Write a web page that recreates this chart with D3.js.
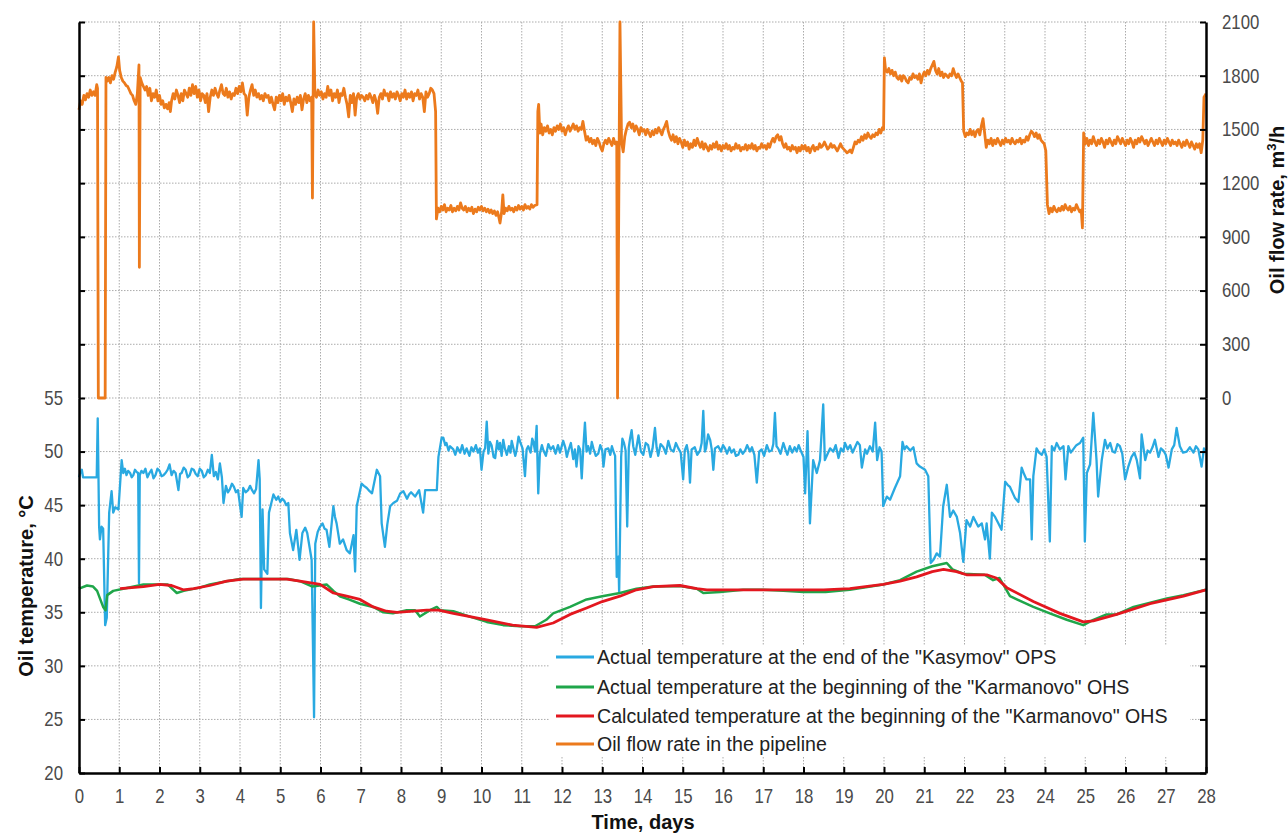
<!DOCTYPE html>
<html><head><meta charset="utf-8">
<script src="https://cdn.jsdelivr.net/npm/d3@7"></script>
<style>body{margin:0;background:#fff}svg{display:block}</style>
</head><body><svg id="c" width="1288" height="834"></svg>
<script>
// ---------- data ----------
const dayTicks = [0,1,2,3,4,5,6,7,8,9,10,11,12,13,14,15,16,17,18,19,20,21,22,23,24,25,26,27,28];
const tempTicks = [20,25,30,35,40,45,50,55];
const flowTicks = [0,300,600,900,1200,1500,1800,2100];

const seriesNames = [
  'Actual temperature at the end of the "Kasymov" OPS',
  'Actual temperature at the beginning of the "Karmanovo" OHS',
  'Calculated temperature at the beginning of the "Karmanovo" OHS',
  'Oil flow rate in the pipeline'
];

// oil flow rate, m3/h  [day, value]
const flowRate = [[0,1610],[0.04,1660],[0.08,1640],[0.12,1690],[0.16,1665],[0.2,1700],[0.24,1680],[0.28,1720],[0.32,1690],[0.36,1710],[0.4,1690],[0.44,1750],[0.46,1730],[0.48,0],[0.65,0],[0.67,1790],[0.7,1770],[0.74,1790],[0.78,1760],[0.82,1800],[0.86,1780],[0.9,1820],[0.94,1850],[0.98,1905],[1.01,1830],[1.05,1790],[1.09,1770],[1.13,1760],[1.17,1745],[1.21,1740],[1.25,1720],[1.29,1700],[1.33,1690],[1.37,1660],[1.41,1640],[1.45,1700],[1.49,1860],[1.5,730],[1.52,1790],[1.56,1760],[1.6,1740],[1.64,1720],[1.68,1740],[1.72,1690],[1.76,1730],[1.8,1660],[1.84,1700],[1.88,1680],[1.92,1720],[1.96,1660],[2.0,1690],[2.04,1640],[2.08,1660],[2.12,1620],[2.16,1640],[2.2,1615],[2.24,1650],[2.27,1600],[2.3,1660],[2.34,1700],[2.38,1670],[2.42,1720],[2.46,1690],[2.5,1650],[2.54,1700],[2.58,1660],[2.62,1720],[2.66,1700],[2.7,1680],[2.74,1730],[2.78,1690],[2.82,1750],[2.86,1700],[2.9,1740],[2.94,1680],[2.98,1720],[3.02,1660],[3.06,1700],[3.1,1690],[3.14,1650],[3.18,1700],[3.22,1600],[3.26,1680],[3.3,1720],[3.34,1690],[3.38,1730],[3.42,1700],[3.46,1680],[3.5,1720],[3.54,1750],[3.58,1700],[3.62,1690],[3.66,1730],[3.7,1680],[3.74,1710],[3.78,1670],[3.82,1700],[3.86,1690],[3.9,1730],[3.94,1700],[3.98,1740],[4.02,1710],[4.06,1760],[4.1,1700],[4.14,1690],[4.18,1580],[4.22,1680],[4.26,1720],[4.3,1750],[4.34,1690],[4.38,1720],[4.42,1680],[4.46,1700],[4.5,1670],[4.54,1690],[4.58,1660],[4.62,1700],[4.66,1680],[4.7,1690],[4.74,1650],[4.78,1680],[4.82,1640],[4.86,1610],[4.9,1680],[4.94,1650],[4.98,1690],[5.02,1660],[5.06,1700],[5.1,1640],[5.14,1680],[5.18,1660],[5.22,1690],[5.26,1650],[5.3,1600],[5.34,1670],[5.38,1640],[5.42,1680],[5.46,1650],[5.5,1690],[5.54,1610],[5.58,1670],[5.62,1700],[5.66,1650],[5.7,1690],[5.74,1660],[5.78,1680],[5.8,1117],[5.83,2100],[5.86,1700],[5.9,1680],[5.94,1720],[5.98,1690],[6.02,1710],[6.06,1670],[6.1,1700],[6.14,1680],[6.18,1740],[6.22,1690],[6.26,1720],[6.3,1660],[6.34,1700],[6.38,1680],[6.42,1720],[6.46,1650],[6.5,1700],[6.54,1690],[6.58,1730],[6.62,1680],[6.66,1640],[6.7,1570],[6.74,1690],[6.78,1650],[6.82,1700],[6.86,1580],[6.9,1680],[6.94,1700],[6.98,1670],[7.02,1690],[7.06,1680],[7.1,1660],[7.14,1690],[7.18,1670],[7.22,1700],[7.26,1680],[7.3,1650],[7.34,1690],[7.38,1660],[7.42,1590],[7.46,1680],[7.5,1700],[7.54,1670],[7.58,1720],[7.62,1690],[7.66,1700],[7.7,1660],[7.74,1710],[7.78,1680],[7.82,1700],[7.86,1670],[7.9,1710],[7.94,1690],[7.98,1660],[8.02,1700],[8.06,1680],[8.1,1720],[8.14,1670],[8.18,1700],[8.22,1680],[8.26,1710],[8.3,1660],[8.34,1700],[8.38,1690],[8.42,1720],[8.46,1670],[8.5,1700],[8.54,1680],[8.58,1600],[8.62,1710],[8.66,1680],[8.7,1700],[8.74,1730],[8.78,1720],[8.82,1700],[8.86,1600],[8.88,1000],[8.92,1060],[8.96,1040],[9.0,1070],[9.04,1050],[9.08,1080],[9.12,1040],[9.16,1060],[9.2,1050],[9.24,1075],[9.28,1040],[9.32,1060],[9.36,1045],[9.4,1070],[9.44,1050],[9.48,1090],[9.52,1060],[9.56,1050],[9.6,1070],[9.64,1040],[9.68,1060],[9.72,1045],[9.76,1065],[9.8,1030],[9.84,1055],[9.88,1040],[9.92,1065],[9.96,1050],[10.0,1070],[10.04,1045],[10.08,1060],[10.12,1040],[10.16,1055],[10.2,1035],[10.24,1050],[10.28,1030],[10.32,1045],[10.36,1020],[10.4,1040],[10.44,1000],[10.46,977],[10.5,1040],[10.53,1134],[10.56,1030],[10.6,1060],[10.64,1045],[10.68,1070],[10.72,1050],[10.76,1060],[10.8,1040],[10.84,1065],[10.88,1050],[10.92,1075],[10.96,1055],[11.0,1070],[11.04,1050],[11.08,1080],[11.12,1060],[11.16,1070],[11.2,1055],[11.24,1080],[11.28,1065],[11.32,1075],[11.38,1080],[11.4,1600],[11.42,1640],[11.45,1480],[11.48,1530],[11.52,1470],[11.56,1510],[11.6,1490],[11.64,1520],[11.68,1480],[11.72,1500],[11.76,1470],[11.8,1510],[11.84,1490],[11.88,1520],[11.92,1500],[11.96,1530],[12.0,1490],[12.04,1510],[12.08,1470],[12.12,1500],[12.16,1520],[12.2,1490],[12.24,1510],[12.28,1530],[12.32,1500],[12.36,1520],[12.4,1490],[12.44,1510],[12.48,1500],[12.52,1545],[12.56,1490],[12.6,1440],[12.64,1460],[12.68,1430],[12.72,1450],[12.76,1420],[12.8,1440],[12.84,1410],[12.88,1450],[12.92,1430],[12.96,1400],[13.0,1380],[13.04,1420],[13.08,1440],[13.12,1420],[13.16,1450],[13.2,1430],[13.24,1410],[13.28,1450],[13.32,1420],[13.36,1430],[13.38,0],[13.44,2100],[13.48,1430],[13.52,1375],[13.56,1460],[13.6,1500],[13.64,1530],[13.68,1540],[13.72,1510],[13.76,1530],[13.8,1490],[13.84,1520],[13.88,1500],[13.92,1470],[13.96,1510],[14.0,1490],[14.04,1500],[14.08,1470],[14.12,1500],[14.16,1480],[14.2,1460],[14.24,1490],[14.28,1470],[14.32,1500],[14.36,1480],[14.4,1510],[14.44,1490],[14.48,1470],[14.52,1500],[14.56,1520],[14.6,1545],[14.64,1490],[14.68,1460],[14.72,1440],[14.76,1470],[14.8,1430],[14.84,1460],[14.88,1420],[14.92,1450],[14.96,1430],[15.0,1400],[15.04,1440],[15.08,1410],[15.12,1430],[15.16,1390],[15.2,1420],[15.24,1400],[15.28,1440],[15.32,1410],[15.36,1450],[15.4,1420],[15.44,1400],[15.48,1430],[15.52,1390],[15.56,1420],[15.6,1400],[15.64,1380],[15.68,1410],[15.72,1390],[15.76,1420],[15.8,1400],[15.84,1430],[15.88,1390],[15.92,1410],[15.96,1380],[16.0,1410],[16.04,1395],[16.08,1420],[16.12,1390],[16.16,1410],[16.2,1380],[16.24,1400],[16.28,1390],[16.32,1420],[16.36,1395],[16.4,1410],[16.44,1380],[16.48,1400],[16.52,1390],[16.56,1415],[16.6,1385],[16.64,1410],[16.68,1395],[16.72,1420],[16.76,1390],[16.8,1410],[16.84,1380],[16.88,1400],[16.92,1395],[16.96,1420],[17.0,1400],[17.04,1410],[17.08,1390],[17.12,1420],[17.16,1400],[17.2,1430],[17.24,1450],[17.28,1430],[17.32,1460],[17.36,1470],[17.4,1440],[17.44,1460],[17.48,1420],[17.52,1400],[17.56,1420],[17.6,1390],[17.64,1400],[17.68,1380],[17.72,1410],[17.76,1390],[17.8,1400],[17.84,1370],[17.88,1400],[17.92,1380],[17.96,1410],[18.0,1390],[18.04,1410],[18.08,1380],[18.12,1400],[18.16,1370],[18.2,1395],[18.24,1410],[18.28,1380],[18.32,1400],[18.36,1390],[18.4,1420],[18.44,1400],[18.48,1410],[18.52,1430],[18.56,1410],[18.6,1390],[18.64,1400],[18.68,1420],[18.72,1400],[18.76,1410],[18.8,1395],[18.84,1380],[18.88,1400],[18.92,1420],[18.96,1400],[19.0,1390],[19.04,1380],[19.08,1370],[19.12,1375],[19.16,1385],[19.2,1370],[19.24,1400],[19.28,1430],[19.32,1420],[19.36,1440],[19.4,1430],[19.44,1460],[19.48,1440],[19.52,1470],[19.56,1450],[19.6,1480],[19.64,1460],[19.68,1450],[19.72,1470],[19.76,1460],[19.8,1480],[19.84,1470],[19.88,1500],[19.92,1480],[19.96,1510],[19.99,1500],[20.01,1900],[20.04,1830],[20.08,1820],[20.12,1840],[20.16,1810],[20.2,1830],[20.24,1800],[20.28,1820],[20.32,1790],[20.36,1780],[20.4,1800],[20.44,1770],[20.48,1800],[20.52,1790],[20.56,1770],[20.6,1760],[20.64,1790],[20.68,1780],[20.72,1810],[20.76,1790],[20.8,1800],[20.84,1780],[20.88,1810],[20.92,1760],[20.96,1800],[21.0,1820],[21.04,1800],[21.08,1830],[21.12,1810],[21.16,1840],[21.2,1860],[21.24,1880],[21.28,1830],[21.32,1810],[21.36,1840],[21.4,1800],[21.44,1820],[21.48,1790],[21.52,1810],[21.56,1800],[21.6,1790],[21.64,1810],[21.68,1800],[21.72,1840],[21.76,1810],[21.8,1790],[21.84,1810],[21.88,1790],[21.92,1770],[21.95,1760],[21.98,1490],[22.02,1460],[22.06,1480],[22.1,1470],[22.14,1500],[22.18,1470],[22.22,1490],[22.26,1460],[22.3,1490],[22.34,1500],[22.38,1470],[22.42,1520],[22.46,1560],[22.5,1480],[22.54,1400],[22.58,1440],[22.62,1420],[22.66,1450],[22.7,1410],[22.74,1440],[22.78,1420],[22.82,1450],[22.86,1430],[22.9,1410],[22.94,1440],[22.98,1420],[23.02,1450],[23.06,1430],[23.1,1440],[23.14,1420],[23.18,1450],[23.22,1430],[23.26,1420],[23.3,1440],[23.34,1430],[23.38,1450],[23.42,1420],[23.46,1440],[23.5,1430],[23.54,1460],[23.58,1440],[23.62,1470],[23.66,1490],[23.7,1480],[23.74,1460],[23.78,1480],[23.82,1450],[23.86,1470],[23.9,1440],[23.94,1430],[23.98,1420],[24.02,1380],[24.06,1080],[24.1,1030],[24.14,1060],[24.18,1040],[24.22,1070],[24.26,1050],[24.3,1040],[24.34,1060],[24.38,1045],[24.42,1070],[24.46,1050],[24.5,1080],[24.54,1060],[24.58,1050],[24.62,1070],[24.66,1040],[24.7,1060],[24.74,1050],[24.78,1080],[24.82,1060],[24.86,1040],[24.9,1050],[24.93,950],[24.96,1480],[25.0,1420],[25.04,1450],[25.08,1410],[25.12,1440],[25.16,1420],[25.2,1460],[25.24,1430],[25.28,1410],[25.32,1440],[25.36,1420],[25.4,1450],[25.44,1430],[25.48,1400],[25.52,1440],[25.56,1420],[25.6,1450],[25.64,1430],[25.68,1410],[25.72,1440],[25.76,1420],[25.8,1460],[25.84,1440],[25.88,1420],[25.92,1450],[25.96,1430],[26.0,1410],[26.04,1440],[26.08,1420],[26.12,1450],[26.16,1430],[26.2,1400],[26.24,1440],[26.28,1420],[26.32,1450],[26.36,1430],[26.4,1460],[26.44,1440],[26.48,1420],[26.52,1440],[26.56,1410],[26.6,1430],[26.64,1450],[26.68,1430],[26.72,1410],[26.76,1440],[26.8,1420],[26.84,1450],[26.88,1430],[26.92,1410],[26.96,1440],[27.0,1420],[27.04,1450],[27.08,1430],[27.12,1410],[27.16,1440],[27.2,1420],[27.24,1430],[27.28,1410],[27.32,1440],[27.36,1420],[27.4,1400],[27.44,1430],[27.48,1410],[27.52,1440],[27.56,1420],[27.6,1400],[27.64,1430],[27.68,1410],[27.72,1390],[27.76,1420],[27.8,1400],[27.84,1420],[27.88,1370],[27.92,1440],[27.95,1680],[28.0,1700]];

// actual temperature at the end of the "Kasymov" OPS, °C
const kasymovTemp = [[0.0,47.6],[0.03,48.0],[0.07,48.3],[0.1,47.6],[0.2,47.6],[0.3,47.6],[0.44,47.6],[0.465,53.1],[0.5,43.0],[0.52,41.8],[0.56,43.0],[0.6,42.8],[0.65,33.8],[0.69,34.5],[0.75,44.3],[0.81,46.3],[0.85,44.3],[0.9,44.8],[0.98,44.6],[1.06,49.2],[1.1,48.0],[1.14,48.4],[1.18,47.8],[1.22,48.2],[1.27,48.0],[1.31,47.6],[1.35,47.8],[1.39,48.3],[1.43,48.1],[1.47,48.0],[1.49,37.7],[1.51,47.8],[1.55,48.2],[1.6,48.0],[1.65,48.4],[1.7,47.6],[1.75,48.0],[1.8,48.3],[1.85,47.5],[1.9,47.8],[1.95,48.4],[2.0,48.2],[2.05,47.7],[2.1,47.8],[2.15,48.0],[2.2,48.3],[2.25,48.8],[2.3,47.8],[2.35,48.2],[2.4,48.0],[2.47,46.4],[2.51,47.9],[2.55,48.0],[2.6,48.5],[2.65,48.3],[2.7,47.6],[2.75,47.8],[2.8,48.4],[2.85,48.3],[2.9,47.9],[2.95,47.7],[3.0,48.4],[3.05,48.2],[3.1,47.6],[3.15,47.8],[3.2,48.3],[3.25,48.0],[3.3,49.7],[3.35,47.7],[3.4,48.1],[3.45,47.4],[3.5,48.9],[3.55,47.6],[3.59,45.2],[3.65,46.8],[3.7,46.2],[3.75,46.5],[3.8,47.0],[3.85,46.7],[3.9,46.2],[3.95,46.4],[4.04,43.9],[4.08,46.6],[4.14,46.2],[4.2,46.4],[4.25,46.8],[4.3,46.4],[4.35,46.1],[4.4,46.5],[4.46,49.2],[4.49,47.4],[4.52,35.4],[4.56,44.6],[4.6,39.0],[4.68,38.6],[4.72,44.3],[4.83,46.0],[4.9,45.5],[4.95,45.8],[5.0,45.3],[5.05,45.6],[5.1,45.4],[5.15,45.0],[5.2,45.2],[5.24,42.4],[5.32,40.8],[5.4,42.7],[5.48,39.9],[5.55,42.4],[5.62,42.9],[5.67,42.4],[5.78,39.9],[5.84,25.2],[5.87,41.4],[5.93,42.5],[5.99,43.0],[6.05,43.3],[6.1,42.8],[6.15,42.7],[6.22,41.1],[6.32,44.9],[6.36,43.9],[6.4,43.3],[6.48,41.4],[6.56,41.8],[6.65,40.8],[6.73,40.5],[6.82,42.2],[6.86,38.8],[6.9,44.9],[7.02,47.0],[7.08,46.8],[7.15,46.6],[7.22,46.3],[7.28,46.1],[7.34,47.2],[7.4,48.3],[7.48,47.7],[7.52,43.3],[7.6,41.1],[7.66,43.2],[7.73,44.9],[7.81,45.2],[7.9,45.4],[7.98,46.1],[8.06,46.3],[8.15,45.6],[8.2,46.0],[8.25,46.2],[8.35,45.8],[8.45,46.4],[8.55,44.3],[8.6,46.4],[8.7,46.4],[8.82,46.4],[8.89,46.4],[8.93,49.5],[9.01,51.3],[9.05,51.3],[9.1,50.6],[9.13,50.8],[9.18,50.1],[9.22,50.5],[9.3,50.2],[9.35,49.7],[9.4,50.4],[9.47,49.9],[9.52,50.6],[9.58,49.8],[9.63,50.3],[9.7,49.6],[9.75,50.4],[9.8,50.0],[9.86,50.6],[9.91,49.9],[9.96,50.3],[10.0,48.3],[10.05,50.0],[10.09,50.3],[10.13,52.8],[10.17,49.8],[10.21,50.9],[10.25,50.6],[10.3,49.5],[10.34,49.4],[10.39,51.0],[10.43,50.2],[10.46,50.8],[10.5,49.6],[10.54,51.1],[10.58,50.3],[10.63,49.7],[10.68,50.5],[10.72,49.9],[10.75,51.0],[10.8,50.2],[10.84,49.6],[10.87,50.1],[10.92,51.4],[10.96,50.9],[11.02,50.3],[11.08,47.7],[11.12,50.2],[11.16,50.5],[11.22,49.9],[11.26,51.2],[11.29,50.9],[11.33,50.0],[11.37,52.4],[11.41,46.1],[11.45,49.8],[11.5,50.6],[11.54,50.1],[11.6,49.6],[11.66,50.7],[11.72,50.2],[11.78,50.5],[11.84,49.8],[11.9,50.6],[11.95,49.9],[12.03,51.0],[12.08,50.4],[12.12,49.5],[12.16,50.1],[12.22,50.8],[12.28,49.3],[12.32,50.2],[12.36,48.6],[12.41,50.5],[12.45,50.2],[12.49,47.5],[12.53,50.4],[12.57,52.7],[12.61,50.0],[12.65,50.5],[12.7,49.8],[12.74,50.9],[12.78,50.3],[12.84,49.6],[12.9,49.8],[12.95,50.6],[13.0,50.1],[13.03,48.6],[13.08,50.2],[13.15,50.3],[13.2,49.7],[13.24,50.5],[13.28,50.0],[13.32,49.6],[13.36,38.3],[13.4,40.2],[13.42,36.8],[13.47,49.5],[13.5,51.2],[13.54,50.8],[13.58,50.1],[13.62,43.0],[13.66,50.4],[13.69,51.2],[13.73,52.0],[13.77,50.5],[13.82,49.7],[13.86,50.6],[13.9,51.5],[13.96,50.0],[14.02,49.7],[14.08,50.8],[14.14,50.6],[14.2,49.5],[14.25,50.3],[14.31,52.2],[14.35,50.4],[14.39,49.6],[14.45,50.7],[14.52,50.4],[14.58,49.8],[14.64,51.0],[14.7,50.2],[14.77,50.0],[14.83,50.8],[14.89,50.3],[14.95,49.9],[15.01,47.4],[15.05,50.1],[15.1,50.6],[15.14,49.8],[15.18,47.1],[15.22,50.2],[15.3,50.4],[15.36,49.7],[15.43,50.1],[15.47,50.8],[15.51,53.8],[15.55,50.0],[15.58,50.3],[15.63,51.6],[15.68,51.1],[15.72,50.2],[15.76,48.3],[15.8,50.3],[15.88,50.5],[15.95,50.0],[16.0,50.6],[16.05,50.3],[16.1,49.8],[16.16,50.4],[16.21,49.9],[16.27,50.2],[16.32,49.6],[16.38,49.7],[16.43,50.2],[16.49,49.8],[16.55,50.1],[16.6,50.6],[16.67,50.0],[16.72,50.4],[16.78,49.7],[16.84,47.1],[16.9,50.0],[16.96,50.2],[17.02,49.6],[17.09,50.6],[17.15,50.0],[17.21,50.1],[17.25,50.7],[17.29,53.6],[17.33,50.5],[17.37,50.3],[17.43,49.8],[17.5,50.8],[17.55,50.2],[17.6,49.7],[17.66,50.5],[17.72,49.9],[17.78,50.4],[17.83,50.0],[17.88,50.6],[17.92,50.2],[18.0,49.5],[18.04,46.1],[18.1,51.9],[18.16,43.3],[18.24,49.2],[18.33,48.0],[18.41,49.2],[18.49,54.4],[18.53,49.2],[18.6,49.8],[18.66,50.3],[18.74,50.0],[18.8,50.6],[18.87,49.4],[18.93,50.3],[18.99,50.0],[19.03,50.8],[19.1,50.2],[19.16,50.6],[19.22,49.9],[19.28,50.4],[19.34,50.9],[19.4,50.6],[19.45,48.5],[19.53,50.2],[19.58,49.8],[19.65,50.5],[19.72,50.0],[19.78,52.7],[19.83,49.2],[19.89,50.4],[19.94,50.0],[19.98,44.9],[20.07,45.8],[20.15,45.5],[20.27,46.6],[20.4,47.7],[20.46,50.9],[20.51,50.2],[20.56,50.5],[20.65,50.1],[20.73,50.4],[20.81,48.9],[20.89,48.6],[21.02,48.3],[21.1,47.7],[21.16,39.6],[21.23,39.9],[21.31,40.5],[21.39,40.2],[21.47,44.9],[21.56,46.9],[21.64,43.9],[21.72,44.5],[21.81,43.9],[21.89,42.4],[21.97,39.7],[22.05,43.6],[22.14,43.0],[22.22,43.9],[22.34,43.0],[22.43,43.3],[22.51,41.8],[22.55,43.3],[22.63,40.0],[22.68,44.3],[22.76,43.9],[22.84,43.3],[22.92,42.7],[23.01,47.2],[23.07,46.9],[23.13,46.7],[23.25,45.7],[23.34,45.3],[23.42,48.5],[23.48,47.9],[23.54,47.4],[23.63,47.4],[23.67,41.8],[23.71,47.7],[23.79,50.3],[23.85,49.9],[23.92,49.7],[23.98,50.2],[24.04,49.5],[24.12,41.6],[24.17,50.5],[24.23,50.1],[24.29,50.8],[24.37,50.2],[24.46,50.5],[24.51,47.4],[24.58,50.5],[24.64,49.9],[24.7,50.2],[24.78,50.6],[24.87,50.8],[24.95,51.3],[24.99,41.6],[25.04,48.0],[25.12,48.8],[25.2,53.6],[25.28,49.2],[25.32,45.8],[25.41,49.2],[25.49,51.1],[25.55,50.3],[25.62,50.8],[25.68,50.0],[25.74,49.9],[25.8,50.7],[25.86,50.5],[25.92,49.8],[25.99,47.4],[26.07,48.6],[26.15,49.5],[26.22,49.9],[26.28,49.2],[26.36,47.5],[26.4,51.6],[26.49,49.2],[26.55,50.1],[26.61,49.9],[26.67,50.4],[26.73,51.1],[26.82,49.5],[26.88,50.3],[26.94,50.1],[27.0,49.7],[27.07,48.5],[27.15,50.2],[27.21,50.6],[27.27,52.2],[27.35,50.5],[27.43,49.9],[27.52,50.0],[27.6,50.4],[27.69,49.9],[27.75,50.5],[27.81,50.2],[27.89,48.6],[27.95,50.3],[28.0,50.0]];

// actual temperature at the beginning of the "Karmanovo" OHS, °C
const karmanovoActual = [[0,37.2],[0.2,37.5],[0.35,37.4],[0.45,37.0],[0.52,36.3],[0.6,35.5],[0.66,35.2],[0.7,36.6],[0.85,37.0],[1.1,37.2],[1.6,37.6],[2.2,37.6],[2.43,36.8],[2.6,37.0],[3.0,37.3],[3.25,37.6],[3.67,37.9],[4.0,38.1],[4.5,38.1],[5.2,38.1],[5.49,37.9],[5.8,37.4],[6.15,37.6],[6.32,37.0],[6.48,36.5],[6.7,36.2],[6.98,35.8],[7.31,35.5],[7.56,35.0],[7.8,34.9],[8.14,35.2],[8.35,35.2],[8.47,34.6],[8.72,35.2],[8.89,35.5],[8.97,35.2],[9.3,35.1],[9.71,34.6],[10.13,34.1],[10.54,33.8],[10.96,33.7],[11.33,33.7],[11.61,34.3],[11.78,34.9],[12.2,35.5],[12.61,36.2],[13.0,36.5],[13.44,36.8],[13.85,37.2],[14.27,37.4],[14.93,37.45],[15.35,37.2],[15.51,36.8],[15.93,36.9],[16.5,37.1],[17.0,37.1],[17.5,37.0],[18.0,36.9],[18.55,36.9],[19.15,37.1],[19.98,37.6],[20.4,38.0],[20.81,38.8],[21.2,39.3],[21.56,39.6],[21.7,39.0],[21.97,38.6],[22.5,38.5],[22.71,38.0],[22.87,38.2],[23.13,36.5],[23.3,36.2],[23.71,35.5],[24.12,34.9],[24.54,34.3],[24.95,33.8],[25.2,34.3],[25.53,34.8],[25.78,34.8],[26.2,35.5],[27.03,36.3],[27.44,36.6],[28,37.1]];

// calculated temperature at the beginning of the "Karmanovo" OHS, °C
const karmanovoCalc = [[1.02,37.2],[1.6,37.4],[2.0,37.6],[2.3,37.5],[2.59,37.1],[2.85,37.2],[3.25,37.5],[3.67,37.9],[4.08,38.1],[4.5,38.1],[5.16,38.1],[5.49,37.9],[5.99,37.6],[6.32,36.8],[6.65,36.5],[6.98,36.2],[7.31,35.5],[7.64,35.1],[7.9,35.0],[8.64,35.2],[8.93,35.2],[9.3,34.9],[10.13,34.3],[10.77,33.8],[11.37,33.6],[11.78,34.0],[12.2,34.8],[12.61,35.4],[13.0,36.0],[13.44,36.5],[13.85,37.1],[14.27,37.4],[14.93,37.5],[15.35,37.2],[15.6,37.1],[16.5,37.1],[17.5,37.1],[18.5,37.1],[19.15,37.2],[19.98,37.6],[20.4,37.9],[20.81,38.3],[21.2,38.8],[21.48,39.0],[21.8,38.8],[22.05,38.5],[22.55,38.5],[22.79,38.2],[23.05,37.3],[23.71,36.0],[24.37,34.9],[24.95,34.1],[25.2,34.2],[25.78,34.8],[26.61,35.8],[27.44,36.5],[28,37.1]];

const colors = ["#29a9e1", "#1fa64a", "#e3171f", "#ec7a1c"];

// ---------- drawing ----------
const svg = d3.select("#c");
const L = 79, R = 1206, T = 22, B = 773;
const x = d3.scaleLinear().domain([0, 28]).range([L, R]);
const yTemp = d3.scaleLinear().domain([20, 55]).range([B, 398]);
const yFlow = d3.scaleLinear().domain([0, 2100]).range([398, T]);

const mainFont = "'Liberation Sans',Arial,Helvetica,sans-serif";
const SX = 0.84; // condensed tick labels

// grid
const grid = svg.append("g").attr("stroke", "#ababab").attr("stroke-width", 1).attr("stroke-dasharray", "1.5,1.5");
grid.selectAll("line.v").data(dayTicks.filter(d => d > 0 && d < 28)).join("line").attr("class","v")
  .attr("x1", d => x(d)).attr("x2", d => x(d)).attr("y1", T).attr("y2", B);
grid.selectAll("line.hf").data(flowTicks).join("line").attr("class","hf")
  .attr("x1", L).attr("x2", R).attr("y1", d => yFlow(d)).attr("y2", d => yFlow(d));
grid.selectAll("line.ht").data(tempTicks.filter(d => d > 20 && d < 55)).join("line").attr("class","ht")
  .attr("x1", L).attr("x2", R).attr("y1", d => yTemp(d)).attr("y2", d => yTemp(d));

// lines
const lineFlow = d3.line().x(d => x(d[0])).y(d => yFlow(d[1]));
const lineTemp = d3.line().x(d => x(d[0])).y(d => yTemp(d[1]));

svg.append("path").datum(flowRate).attr("d", lineFlow)
  .attr("fill", "none").attr("stroke", colors[3]).attr("stroke-width", 2.8).attr("stroke-linejoin", "round");
svg.append("path").datum(kasymovTemp).attr("d", lineTemp)
  .attr("fill", "none").attr("stroke", colors[0]).attr("stroke-width", 2.3).attr("stroke-linejoin", "round");
svg.append("path").datum(karmanovoActual).attr("d", lineTemp)
  .attr("fill", "none").attr("stroke", colors[1]).attr("stroke-width", 2.5).attr("stroke-linejoin", "round");
svg.append("path").datum(karmanovoCalc).attr("d", lineTemp)
  .attr("fill", "none").attr("stroke", colors[2]).attr("stroke-width", 2.8).attr("stroke-linejoin", "round");

// axes
function styleAxis(g, side) {
  g.select(".domain").attr("stroke", "#000").attr("stroke-width", 2.5);
  g.selectAll(".tick line").attr("stroke", "#000").attr("stroke-width", 2);
  const t = g.selectAll(".tick text").attr("fill", "#4a4a4a")
    .style("font-family", mainFont).style("font-size", "20px")
    .attr("transform", `scale(${SX},1)`);
  if (side === "left") t.attr("x", -16 / SX);
  if (side === "right") t.attr("x", 16 / SX);
}
svg.append("g").attr("transform", `translate(0,${B})`)
  .call(d3.axisBottom(x).tickValues(dayTicks).tickFormat(d3.format("d")).tickSizeInner(-6).tickSizeOuter(0).tickPadding(16))
  .call(styleAxis, "bottom");
svg.append("g").attr("transform", `translate(${L},0)`)
  .call(d3.axisLeft(yTemp).tickValues(tempTicks).tickFormat(d3.format("d")).tickSizeInner(-6).tickSizeOuter(0).tickPadding(16))
  .call(styleAxis, "left");
svg.append("g").attr("transform", `translate(${L},0)`)
  .call(d3.axisLeft(yFlow).tickValues(flowTicks.filter(d => d > 0)).tickFormat("").tickSizeInner(-6).tickSizeOuter(0))
  .call(styleAxis, "none");
svg.append("g").attr("transform", `translate(${R},0)`)
  .call(d3.axisRight(yFlow).tickValues(flowTicks).tickFormat(d3.format("d")).tickSizeInner(-6).tickSizeOuter(0).tickPadding(16))
  .call(styleAxis, "right");
svg.append("g").attr("transform", `translate(${R},0)`)
  .call(d3.axisRight(yTemp).tickValues(tempTicks.filter(d => d < 55)).tickFormat("").tickSizeInner(-6).tickSizeOuter(0))
  .call(styleAxis, "none");

// axis titles
svg.append("text").attr("x", 643).attr("y", 829).attr("text-anchor", "middle")
  .style("font-family", mainFont).style("font-weight", "bold").style("font-size", "20px").attr("fill", "#111")
  .text("Time, days");
svg.append("text").attr("transform", "translate(33,586) rotate(-90)").attr("text-anchor", "middle")
  .style("font-family", mainFont).style("font-weight", "bold").style("font-size", "20px").attr("fill", "#111")
  .text("Oil temperature, °C");
const rt = svg.append("text").attr("transform", "translate(1284,210) rotate(-90)").attr("text-anchor", "middle")
  .style("font-family", mainFont).style("font-weight", "bold").style("font-size", "20px").attr("fill", "#111");
rt.append("tspan").text("Oil flow rate, m");
rt.append("tspan").attr("dy", -8).style("font-size", "13px").text("3");
rt.append("tspan").attr("dy", 8).text("/h");

// legend
const lg = svg.append("g");
lg.append("rect").attr("x", 549).attr("y", 645).attr("width", 641).attr("height", 111).attr("fill", "#fff");
const rowsY = [657, 687, 716, 744];
[0, 1, 2, 3].forEach((k, i) => {
  lg.append("line").attr("x1", 556).attr("x2", 594).attr("y1", rowsY[i]).attr("y2", rowsY[i])
    .attr("stroke", colors[k]).attr("stroke-width", 3);
  lg.append("text").attr("x", 597).attr("y", rowsY[i]).attr("dy", "0.36em")
    .style("font-family", mainFont).style("font-size", "19.6px").attr("fill", "#222").text(seriesNames[k]);
});
</script>
</body></html>
